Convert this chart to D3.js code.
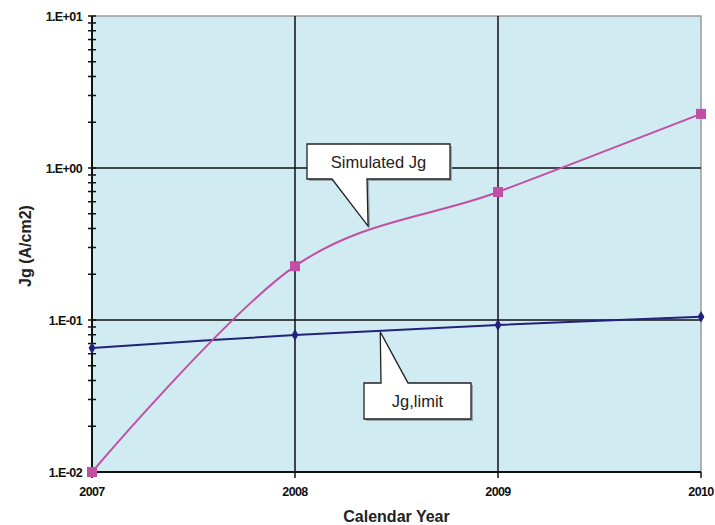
<!DOCTYPE html>
<html lang="en">
<head>
<meta charset="utf-8">
<title>Jg vs calendar year</title>
<script src="https://d3js.org/d3.v7.min.js"></script>
<style>
  body { margin: 0; background: #fff; }
  text { font-family: "Liberation Sans", Arial, sans-serif; }
</style>
</head>
<body>
<svg width="715" height="525"></svg>
<script>
// data
var years = [2007, 2008, 2009, 2010];
var simulatedJg = [0.0100, 0.226, 0.695, 2.27];
var limitJg = [0.0654, 0.0797, 0.0927, 0.105];
var yTicks = [0.01, 0.1, 1, 10];
var yTickLabels = ["1.E-02", "1.E-01", "1.E+00", "1.E+01"];
// callouts: label, where the pointer touches the curve
var callouts = [
  {label: "Simulated Jg", year: 2008.36, value: 0.415},
  {label: "Jg,limit", year: 2008.42, value: 0.0834}
];

var svg = d3.select("svg");
var pLeft = 92, pRight = 701, pTop = 16, pBottom = 472;

var x = d3.scaleLinear().domain([2007, 2010]).range([pLeft, pRight]);
var y = d3.scaleLog().domain([0.01, 10]).range([pBottom, pTop]);

var pink = "#c24fa3", navy = "#22227a";

// plot background
svg.append("rect")
  .attr("x", pLeft).attr("y", pTop)
  .attr("width", pRight - pLeft).attr("height", pBottom - pTop)
  .attr("fill", "#d0ebf1");

// top and right border in gray
svg.append("path")
  .attr("d", `M${pLeft},${pTop}H${pRight}V${pBottom}`)
  .attr("fill", "none").attr("stroke", "#9a9a9a").attr("stroke-width", 1.5);

// gridlines
svg.append("g").selectAll("line")
  .data(years.slice(1, 3))
  .enter().append("line")
  .attr("x1", d => x(d)).attr("x2", d => x(d))
  .attr("y1", pTop).attr("y2", pBottom)
  .attr("stroke", "#111").attr("stroke-width", 1.5);

svg.append("g").selectAll("line")
  .data(yTicks.slice(1, 3))
  .enter().append("line")
  .attr("x1", pLeft).attr("x2", pRight)
  .attr("y1", d => y(d)).attr("y2", d => y(d))
  .attr("stroke", "#111").attr("stroke-width", 1.5);

// y axis with minor ticks crossing the axis
var minor = [];
yTicks.forEach(function(t) { for (var k = 1; k < 10; k++) if (t * k <= 10) minor.push(t * k); });
svg.append("g").selectAll("line")
  .data(minor)
  .enter().append("line")
  .attr("x1", pLeft - 4).attr("x2", pLeft + 4)
  .attr("y1", d => y(d)).attr("y2", d => y(d))
  .attr("stroke", "#111").attr("stroke-width", 1.5);

svg.append("line")
  .attr("x1", pLeft).attr("x2", pLeft).attr("y1", pTop).attr("y2", pBottom)
  .attr("stroke", "#111").attr("stroke-width", 2);

svg.append("g").selectAll("text")
  .data(yTicks)
  .enter().append("text")
  .attr("x", pLeft - 10).attr("y", d => y(d) + 4.5)
  .attr("text-anchor", "end")
  .attr("font-size", 12.5).attr("font-weight", "bold")
  .attr("letter-spacing", -0.6)
  .attr("fill", "#111")
  .text((d, i) => yTickLabels[i]);

// x axis
svg.append("line")
  .attr("x1", pLeft).attr("x2", pRight).attr("y1", pBottom).attr("y2", pBottom)
  .attr("stroke", "#111").attr("stroke-width", 2);

svg.append("g").selectAll("line")
  .data(years)
  .enter().append("line")
  .attr("x1", d => x(d)).attr("x2", d => x(d))
  .attr("y1", pBottom).attr("y2", pBottom + 6)
  .attr("stroke", "#111").attr("stroke-width", 1.5);

svg.append("g").selectAll("text")
  .data(years)
  .enter().append("text")
  .attr("x", d => x(d)).attr("y", pBottom + 24)
  .attr("text-anchor", "middle")
  .attr("font-size", 12.5).attr("font-weight", "bold")
  .attr("letter-spacing", -0.6)
  .attr("fill", "#111")
  .text(d => d);

// axis titles
svg.append("text")
  .attr("x", (pLeft + pRight) / 2).attr("y", 522)
  .attr("text-anchor", "middle")
  .attr("font-size", 16).attr("font-weight", "bold")
  .attr("fill", "#222")
  .text("Calendar Year");

svg.append("text")
  .attr("transform", "translate(31,246) rotate(-90)")
  .attr("text-anchor", "middle")
  .attr("font-size", 16).attr("font-weight", "bold")
  .attr("fill", "#222")
  .text("Jg (A/cm2)");

// series
var line = d3.line()
  .x(d => x(d[0])).y(d => y(d[1]))
  .curve(d3.curveCardinal.tension(0));

svg.append("path")
  .datum(years.map((yr, i) => [yr, limitJg[i]]))
  .attr("d", line)
  .attr("fill", "none").attr("stroke", navy).attr("stroke-width", 2);

svg.append("g").selectAll("path")
  .data(years.map((yr, i) => [yr, limitJg[i]]))
  .enter().append("path")
  .attr("d", d3.symbol().type(d3.symbolDiamond).size(40))
  .attr("transform", d => `translate(${x(d[0])},${y(d[1])})`)
  .attr("fill", navy);

svg.append("path")
  .datum(years.map((yr, i) => [yr, simulatedJg[i]]))
  .attr("d", line)
  .attr("fill", "none").attr("stroke", pink).attr("stroke-width", 2);

svg.append("g").selectAll("rect")
  .data(years.map((yr, i) => [yr, simulatedJg[i]]))
  .enter().append("rect")
  .attr("x", d => x(d[0]) - 5).attr("y", d => y(d[1]) - 5)
  .attr("width", 10).attr("height", 10)
  .attr("fill", pink);

// callout boxes
function callout(c, box, base) {
  var tx = x(c.year), ty = y(c.value);
  var g = svg.append("g");
  var bx0 = box[0], by0 = box[1], bx1 = box[2], by1 = box[3];
  var p;
  if (ty > by1) {
    p = `M${bx0},${by0}H${bx1}V${by1}H${base[1]}L${tx},${ty}L${base[0]},${by1}H${bx0}Z`;
  } else {
    p = `M${bx0},${by0}H${base[0]}L${tx},${ty}L${base[1]},${by0}H${bx1}V${by1}H${bx0}Z`;
  }
  g.append("path").attr("d", p)
    .attr("transform", "translate(2,2)")
    .attr("fill", "#9aa9ad");
  g.append("path").attr("d", p)
    .attr("fill", "#fff").attr("stroke", "#222").attr("stroke-width", 1.3);
  g.append("text")
    .attr("x", (bx0 + bx1) / 2).attr("y", (by0 + by1) / 2 + 6)
    .attr("text-anchor", "middle")
    .attr("font-size", 16.5).attr("fill", "#222")
    .text(c.label);
}
callout(callouts[0], [307, 144, 450, 179], [332, 367]);
callout(callouts[1], [364, 383, 471, 419], [381, 408]);
</script>
</body>
</html>
